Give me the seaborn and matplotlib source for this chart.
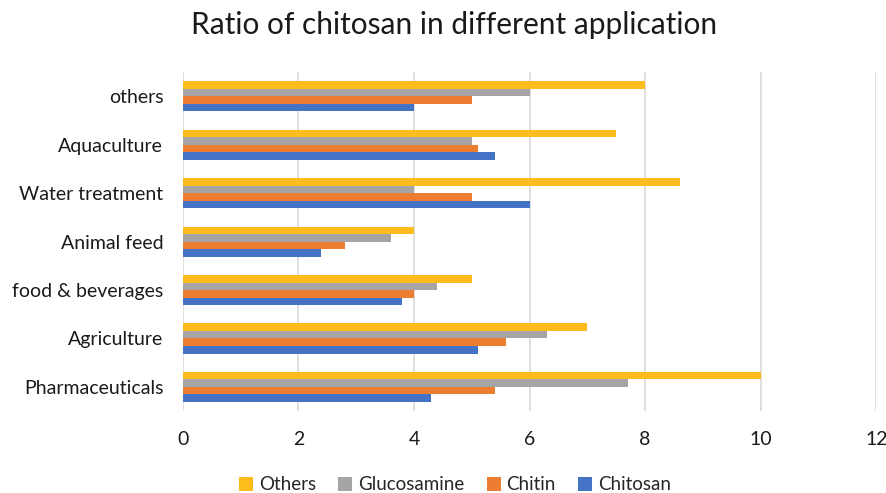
import matplotlib
matplotlib.use("Agg")
import matplotlib.pyplot as plt
import seaborn as sns
import pandas as pd

categories = ["others", "Aquaculture", "Water treatment", "Animal feed",
              "food & beverages", "Agriculture", "Pharmaceuticals"]
others = [8.0, 7.5, 8.6, 4.0, 5.0, 7.0, 10.0]
glucosamine = [6.0, 5.0, 4.0, 3.6, 4.4, 6.3, 7.7]
chitin = [5.0, 5.1, 5.0, 2.8, 4.0, 5.6, 5.4]
chitosan = [4.0, 5.4, 6.0, 2.4, 3.8, 5.1, 4.3]
series_names = ["Others", "Glucosamine", "Chitin", "Chitosan"]
colors = ["#FBBC1C", "#A5A5A5", "#ED7D31", "#4472C4"]

rows = []
for name, vals in zip(series_names, [others, glucosamine, chitin, chitosan]):
    for c, v in zip(categories, vals):
        rows.append({"Application": c, "Series": name, "Value": v})
df = pd.DataFrame(rows)

sns.set_style("white")
plt.rcParams["font.family"] = ["Lato", "DejaVu Sans"]

fig = plt.figure(figsize=(8.87, 4.93), dpi=100)
ax = fig.add_axes([0.206, 0.166, 0.782, 0.688])
sns.barplot(data=df, y="Application", x="Value", hue="Series",
            order=categories, hue_order=series_names,
            palette=colors, orient="h", width=0.62, ax=ax,
            saturation=1, errorbar=None, zorder=3, linewidth=0)

ax.set_xlim(0, 12)
ax.set_xticks(range(0, 13, 2))
ax.grid(axis="x", color="#D9D9D9", linewidth=1.2, zorder=0)
ax.set_axisbelow(True)
for s in ax.spines.values():
    s.set_visible(False)
ax.set_xlabel("")
ax.set_ylabel("")
ax.tick_params(axis="both", length=0, labelsize=14, colors="#1a1a1a")
ax.tick_params(axis="x", pad=14)
ax.tick_params(axis="y", pad=14)

fig.suptitle("Ratio of chitosan in different application", fontsize=21.5,
             x=0.512, y=0.978, color="#1a1a1a")

handles, labels = ax.get_legend_handles_labels()
ax.legend_.remove()
fig.legend(handles, labels, loc="lower center", ncol=4, frameon=False,
           bbox_to_anchor=(0.513, -0.035), fontsize=13.5, handlelength=0.75,
           handleheight=0.75, handletextpad=0.3, columnspacing=1.2)

fig.savefig("out.png", dpi=100)
